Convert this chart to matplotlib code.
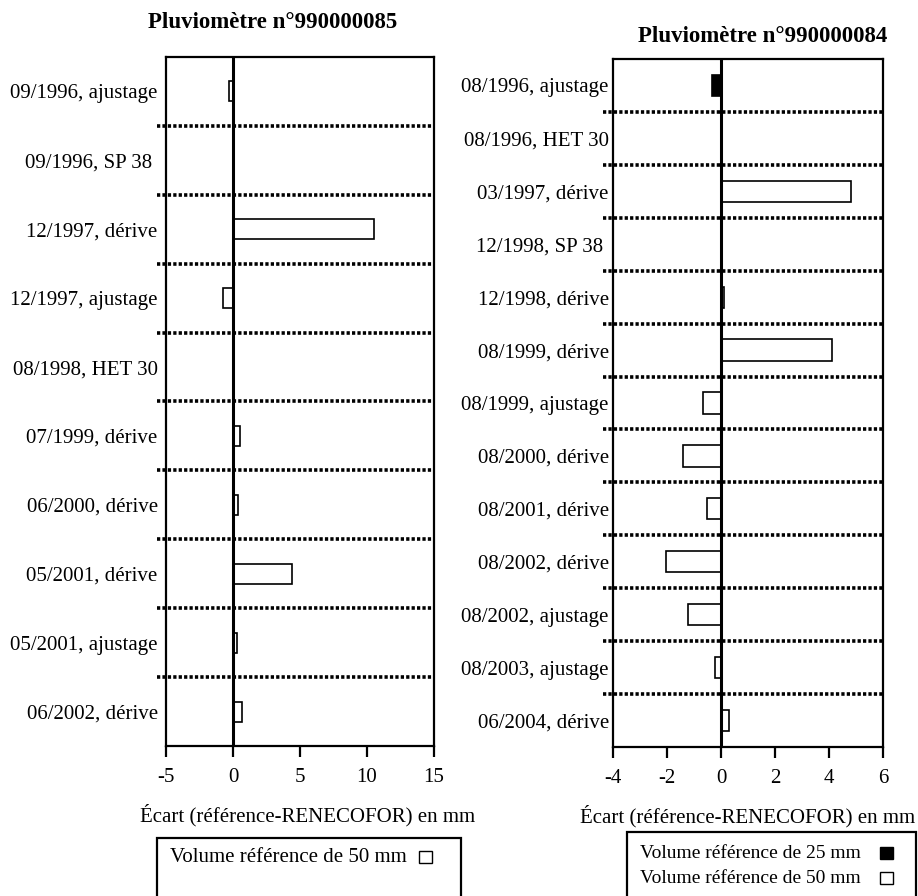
import numpy as np
import matplotlib.pyplot as plt
from matplotlib.patches import Rectangle
import matplotlib.transforms as mtransforms

plt.rcParams['font.family'] = ['Liberation Serif', 'DejaVu Serif']
plt.rcParams['axes.unicode_minus'] = False

# Pluviomètre n°990000085
labels_85 = ["09/1996, ajustage", "09/1996, SP 38 ", "12/1997, dérive",
             "12/1997, ajustage", "08/1998, HET 30", "07/1999, dérive",
             "06/2000, dérive", "05/2001, dérive", "05/2001, ajustage",
             "06/2002, dérive"]
ecart_85 = [-0.3, 0.0, 10.5, -0.75, 0.0, 0.5, 0.4, 4.4, 0.3, 0.7]
volume_85 = [50] * 10

# Pluviomètre n°990000084
labels_84 = ["08/1996, ajustage", "08/1996, HET 30", "03/1997, dérive",
             "12/1998, SP 38 ", "12/1998, dérive", "08/1999, dérive",
             "08/1999, ajustage", "08/2000, dérive", "08/2001, dérive",
             "08/2002, dérive", "08/2002, ajustage", "08/2003, ajustage",
             "06/2004, dérive"]
ecart_84 = [-0.33, 0.0, 4.8, 0.0, 0.1, 4.1, -0.67, -1.4, -0.52, -2.05,
            -1.22, -0.22, 0.3]
volume_84 = [25, 50, 50, 50, 50, 50, 50, 50, 50, 50, 50, 50, 50]

vol_colors = {25: "black", 50: "white"}
xlabel = "Écart (référence-RENECOFOR) en mm"


def panel(ax, labels, values, volumes, xlim, xticks, bar_h, sep_start, pad):
    n = len(labels)
    y = np.arange(n)
    colors = [vol_colors[v] for v in volumes]
    ax.barh(y, values, height=bar_h, color=colors, edgecolor="black",
            linewidth=1.2, zorder=3)
    ax.axvline(0, color="black", lw=2.2, zorder=4)
    trans = mtransforms.blended_transform_factory(ax.transAxes, ax.transData)
    for i in range(n - 1):
        ax.plot([sep_start, 1], [i + 0.5, i + 0.5], transform=trans,
                color="black", lw=2.6, ls=(0, (0.9, 0.6)), clip_on=False,
                zorder=2)
    ax.set_ylim(n - 0.5, -0.5)
    ax.set_xlim(*xlim)
    ax.set_xticks(xticks)
    ax.set_yticks(y)
    ax.set_yticklabels(labels)
    ax.tick_params(axis="y", length=0, pad=pad, labelsize=15)
    ax.tick_params(axis="x", direction="out", length=8, width=1.6,
                   labelsize=15, pad=8)
    for s in ax.spines.values():
        s.set_linewidth(1.6)
    ax.set_xlabel(xlabel, fontsize=15, labelpad=12)


fig = plt.figure(figsize=(9.18, 8.96), dpi=100)
W, H = 918, 896

ax1 = fig.add_axes([166 / W, 1 - 746 / H, 268 / W, 689 / H])
panel(ax1, labels_85, ecart_85, volume_85, (-5, 15), [-5, 0, 5, 10, 15],
      0.29, -0.034, 6)
ax1.xaxis.label.set_x(0.53)
ax2 = fig.add_axes([613 / W, 1 - 747 / H, 270 / W, 688 / H])
panel(ax2, labels_84, ecart_84, volume_84, (-4, 6), [-4, -2, 0, 2, 4, 6],
      0.4, -0.037, 3)

fig.text(273 / W, 1 - 22 / H, "Pluviomètre n°990000085", ha="center",
         va="center", fontsize=16.5, fontweight="bold")
fig.text(763 / W, 1 - 36 / H, "Pluviomètre n°990000084", ha="center",
         va="center", fontsize=16.5, fontweight="bold")


# legend boxes
def legend_box(x0, x1, y_top, entries, sq_x, fs):
    fig.patches.append(Rectangle((x0 / W, 1 - 920 / H), (x1 - x0) / W,
                                 (920 - y_top) / H, transform=fig.transFigure,
                                 fill=False, edgecolor="black", lw=1.6))
    for text, vol, yc in entries:
        fig.text((x0 + 13) / W, 1 - yc / H, text, ha="left", va="center",
                 fontsize=fs)
        fig.patches.append(Rectangle((sq_x / W, 1 - (yc + 6) / H), 13 / W,
                                     12 / H, transform=fig.transFigure,
                                     facecolor=vol_colors[vol],
                                     edgecolor="black", lw=1.0))


legend_box(157, 461, 838, [("Volume référence de 50 mm", 50, 857)], 419, 15)
legend_box(627, 916, 832, [("Volume référence de 25 mm", 25, 853),
                           ("Volume référence de 50 mm", 50, 878)], 880, 14)

fig.savefig("out.png", dpi=100)
